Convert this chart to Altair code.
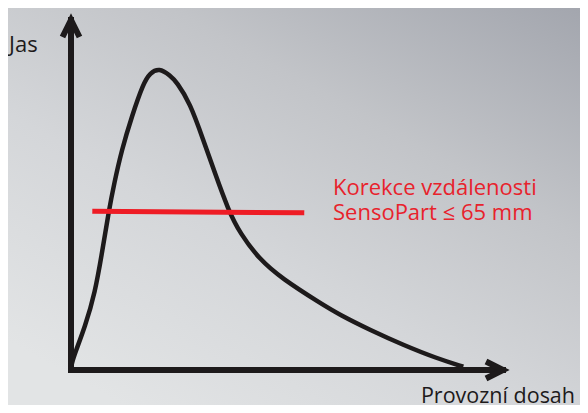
import altair as alt
import pandas as pd

# Curve (operating range vs. brightness), units 0-100
curve_x = [0.0, 0.12, 0.93, 3.24, 5.56, 7.29, 8.75, 10.0, 11.74, 14.05, 16.74, 18.29,
           20.44, 22.92, 24.47, 27.55, 30.63, 33.33, 36.41, 39.12, 43.75, 48.77,
           57.64, 62.27, 69.21, 76.92, 84.65, 90.81]
curve_y = [0.0, 1.71, 4.86, 12.37, 22.00, 34.29, 45.43, 53.34, 62.86, 72.37, 81.91, 84.86,
           86.29, 84.14, 82.29, 76.29, 65.71, 56.20, 45.71, 39.06, 31.43, 26.20,
           19.14, 15.71, 11.43, 7.14, 3.34, 0.94]

# Red threshold line
limit_x = [4.93, 54.0]
limit_y = [45.34, 44.91]

# Axes (from origin to arrow tips)
axis_x = [0, 0, 0, 100]
axis_y = [0, 100, 0, 0]
axis_id = ["v", "v", "h", "h"]
tip_x = [0, 100]
tip_y = [100, 0]
tip_angle = [0, 90]

label_y_text = "Jas"
label_x_text = "Provozní dosah"
note_line1 = "Korekce vzdálenosti"
note_line2 = "SensoPart ≤ 65 mm"

W, H = 432, 350
PAD = {"left": 63, "top": 12, "right": 77, "bottom": 35}

xs = alt.Scale(domain=[0, 100], nice=False, zero=False)
ys = alt.Scale(domain=[0, 100], nice=False, zero=False)

ink = "#1d1a1b"
red = "#ee1c25"
font = "Open Sans"

bg = alt.Chart(pd.DataFrame({"a": [0]})).mark_rect(
    clip=False,
    fill=alt.Gradient(
        gradient="linear",
        stops=[
            alt.GradientStop(offset=0, color="#a3a6ae"),
            alt.GradientStop(offset=0.35, color="#c2c4c8"),
            alt.GradientStop(offset=0.65, color="#d4d6d9"),
            alt.GradientStop(offset=1, color="#e2e4e5"),
        ],
        x1=1, y1=0, x2=0.2, y2=1,
    ),
).encode(
    x=alt.value(-PAD["left"]), x2=alt.value(W + PAD["right"]),
    y=alt.value(-PAD["top"]), y2=alt.value(H + PAD["bottom"]),
)

curve_df = pd.DataFrame({"x": curve_x, "y": curve_y})
curve = alt.Chart(curve_df).mark_line(
    color=ink, strokeWidth=4.5, interpolate="basis", clip=False
).encode(
    x=alt.X("x:Q", scale=xs, axis=None),
    y=alt.Y("y:Q", scale=ys, axis=None),
)

limit_df = pd.DataFrame({"x": limit_x, "y": limit_y})
limit = alt.Chart(limit_df).mark_line(
    color=red, strokeWidth=5, strokeCap="butt", clip=False
).encode(x=alt.X("x:Q", scale=xs), y=alt.Y("y:Q", scale=ys))

axes_df = pd.DataFrame({"x": axis_x, "y": axis_y, "id": axis_id})
axes = alt.Chart(axes_df).mark_line(
    color=ink, strokeWidth=6, strokeCap="square", clip=False
).encode(
    x=alt.X("x:Q", scale=xs), y=alt.Y("y:Q", scale=ys),
    detail="id:N", order=alt.Order("y:Q"),
)

tips_df = pd.DataFrame({"x": tip_x, "y": tip_y, "angle": tip_angle})
tips = alt.Chart(tips_df).mark_point(
    shape="M-1,2L0,0L1,2", size=289, filled=False, stroke=ink,
    strokeWidth=6, strokeJoin="miter", opacity=1, clip=False,
).encode(
    x=alt.X("x:Q", scale=xs), y=alt.Y("y:Q", scale=ys),
    angle=alt.Angle("angle:Q", scale=None),
)


def label(text, x, y, size, color, align):
    return alt.Chart(pd.DataFrame({"t": [text]})).mark_text(
        font=font, fontSize=size, color=color, align=align, baseline="alphabetic"
    ).encode(x=alt.datum(x, scale=xs), y=alt.datum(y, scale=ys), text="t:N")


jas = label(label_y_text, -14.35, 90.86, 22, ink, "left")
dosah = label(label_x_text, 116.67, -9.43, 21.5, ink, "right")
note1 = label(note_line1, 60.65, 50.0, 22, "#e8222c", "left")
note2 = label(note_line2, 60.65, 42.86, 22, "#e8222c", "left")

chart = alt.layer(bg, curve, limit, axes, tips, jas, dosah, note1, note2).properties(
    width=W, height=H, padding=PAD,
    autosize=alt.AutoSizeParams(type="none"),
    background="#d0d2d5",
).configure_view(stroke=None)

chart.save("out.html", embed_options={"renderer": "svg", "actions": False})
